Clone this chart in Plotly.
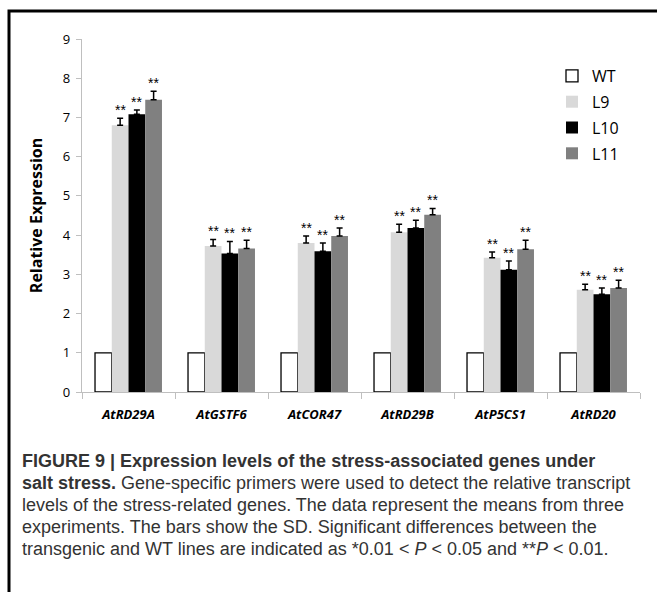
import plotly.graph_objects as go

genes = ["AtRD29A", "AtGSTF6", "AtCOR47", "AtRD29B", "AtP5CS1", "AtRD20"]
series_names = ["WT", "L9", "L10", "L11"]

wt = [1, 1, 1, 1, 1, 1]
l9 = [6.80, 3.72, 3.80, 4.07, 3.42, 2.61]
l10 = [7.08, 3.53, 3.59, 4.18, 3.12, 2.49]
l11 = [7.45, 3.66, 3.98, 4.52, 3.64, 2.65]

wt_sd = [0, 0, 0, 0, 0, 0]
l9_sd = [0.18, 0.17, 0.18, 0.21, 0.15, 0.14]
l10_sd = [0.11, 0.31, 0.21, 0.20, 0.22, 0.16]
l11_sd = [0.22, 0.21, 0.20, 0.16, 0.23, 0.20]

l9_sig = ["**"] * 6
l10_sig = ["**"] * 6
l11_sig = ["**"] * 6

y_ticks = [0, 1, 2, 3, 4, 5, 6, 7, 8, 9]

caption_lines = [
    "<b>FIGURE 9 | Expression levels of the stress-associated genes under</b>",
    "<b>salt stress.</b> Gene-specific primers were used to detect the relative transcript",
    "levels of the stress-related genes. The data represent the means from three",
    "experiments. The bars show the SD. Significant differences between the",
    "transgenic and WT lines are indicated as *0.01 &lt; <i>P</i> &lt; 0.05 and **<i>P</i> &lt; 0.01.",
]

values = [wt, l9, l10, l11]
sds = [wt_sd, l9_sd, l10_sd, l11_sd]
sigs = [None, l9_sig, l10_sig, l11_sig]
fills = ["#ffffff", "#d9d9d9", "#000000", "#808080"]
lines = [1.3, 0, 0, 0]

# layout geometry
W, H = 657, 592
ml, mr, mt, mb = 82, 17, 39, 200
pw = W - ml - mr
ph = H - mt - mb
bargap = 0.28

fig = go.Figure()
for name, v, sd, fc, lw in zip(series_names, values, sds, fills, lines):
    fig.add_trace(go.Bar(
        name=name, x=genes, y=v, legendgroup=name,
        marker=dict(color=fc, line=dict(color="#000000", width=lw)),
        error_y=dict(type="data", array=sd, arrayminus=[0] * len(sd), symmetric=False,
                     visible=any(s > 0 for s in sd), color="#000000", thickness=1.5, width=3),
    ))

cat_w = pw / len(genes)
bar_w = cat_w * (1 - bargap) / len(series_names)
annotations = []
for si, (v, sd, sg) in enumerate(zip(values, sds, sigs)):
    if sg is None:
        continue
    off = (si - (len(series_names) - 1) / 2) * bar_w
    for gi, g in enumerate(genes):
        annotations.append(dict(
            x=g, y=v[gi] + sd[gi], xref="x", yref="y", text=sg[gi], showarrow=False,
            xshift=off, yanchor="bottom", yshift=-2,
            font=dict(family="Liberation Sans", size=14, color="#000000"),
        ))

def px_to_paper_x(px):
    return (px - ml) / pw

def px_to_paper_y(py):
    return (H - mb - py) / ph

for i, line in enumerate(caption_lines):
    annotations.append(dict(
        x=px_to_paper_x(20), y=px_to_paper_y(461 + 22 * i), xref="paper", yref="paper",
        text=line, showarrow=False, xanchor="left", yanchor="middle", align="left",
        font=dict(family="Liberation Sans Narrow, Liberation Sans", size=18, color="#333333"),
    ))

fig.update_layout(
    width=W, height=H,
    margin=dict(l=ml, r=mr, t=mt, b=mb, pad=0),
    paper_bgcolor="#ffffff", plot_bgcolor="#ffffff",
    barmode="group", bargap=bargap, bargroupgap=0,
    font=dict(family="Open Sans", size=13, color="#000000"),
    showlegend=True,
    legend=dict(x=px_to_paper_x(552), y=px_to_paper_y(59), xanchor="left", yanchor="top",
                font=dict(family="Open Sans", size=16, color="#000000"),
                traceorder="grouped", tracegroupgap=2, itemwidth=30,
                bgcolor="rgba(0,0,0,0)"),
    xaxis=dict(showline=True, linecolor="#bfbfbf", linewidth=1.2, ticks="outside",
               tickson="boundaries", ticklen=6, tickcolor="#bfbfbf", showgrid=False,
               ticklabelstandoff=10,
               tickfont=dict(family="Open Sans", size=13, color="#000000", weight="bold", style="italic"),
               fixedrange=True),
    yaxis=dict(range=[0, 9], tickvals=y_ticks, showline=True, linecolor="#bfbfbf", linewidth=1.2,
               ticks="outside", ticklen=5, tickcolor="#bfbfbf", showgrid=False, zeroline=False,
               ticklabelstandoff=3,
               tickfont=dict(family="Open Sans", size=13, color="#000000"),
               title=dict(text="<b>Relative Expression</b>", standoff=16,
                          font=dict(family="Open Sans", size=16, color="#000000"))),
    annotations=annotations,
    shapes=[dict(type="rect", xref="paper", yref="paper",
                 x0=px_to_paper_x(9), x1=px_to_paper_x(700),
                 y0=px_to_paper_y(11), y1=px_to_paper_y(640),
                 line=dict(color="#000000", width=3), fillcolor="rgba(0,0,0,0)", layer="above")],
)

fig.write_html("out.html", config={"displayModeBar": False},
               post_script="document.body.style.margin='0';document.body.style.overflow='hidden';")
